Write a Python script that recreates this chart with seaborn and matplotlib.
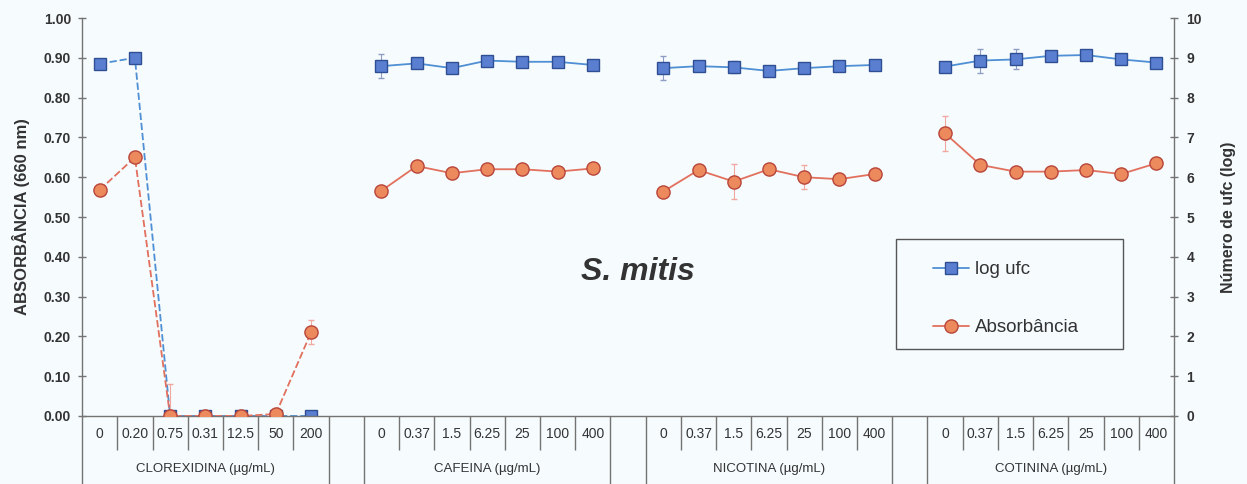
import numpy as np
import pandas as pd
import matplotlib
matplotlib.use("Agg")
import matplotlib.pyplot as plt
import seaborn as sns
from matplotlib.lines import Line2D
from matplotlib.patches import Rectangle

# ---- data -------------------------------------------------------------
group_names = ["CLOREXIDINA (µg/mL)", "CAFEINA (µg/mL)",
               "NICOTINA (µg/mL)", "COTININA (µg/mL)"]
conc_clx = ["0", "0.20", "0.75", "0.31", "12.5", "50", "200"]
conc_std = ["0", "0.37", "1.5", "6.25", "25", "100", "400"]

log_clx = [8.85, 9.00, 0.0, 0.0, 0.0, 0.0, 0.0]
log_caf = [8.79, 8.86, 8.74, 8.93, 8.90, 8.90, 8.82]
log_nic = [8.74, 8.79, 8.76, 8.67, 8.74, 8.79, 8.82]
log_cot = [8.78, 8.93, 8.96, 9.05, 9.07, 8.96, 8.88]

abs_clx = [0.568, 0.650, 0.0, 0.0, 0.0, 0.005, 0.210]
abs_caf = [0.566, 0.628, 0.610, 0.620, 0.620, 0.614, 0.622]
abs_nic = [0.564, 0.618, 0.589, 0.620, 0.600, 0.595, 0.608]
abs_cot = [0.710, 0.631, 0.614, 0.614, 0.618, 0.608, 0.635]

err_log_clx = [0.05, 0.05, 0.0, 0.0, 0.0, 0.0, 0.0]
err_log_caf = [0.30, 0.10, 0.10, 0.05, 0.05, 0.05, 0.05]
err_log_nic = [0.30, 0.10, 0.15, 0.10, 0.10, 0.05, 0.05]
err_log_cot = [0.10, 0.30, 0.25, 0.10, 0.10, 0.10, 0.10]

err_abs_clx = [0.01, 0.01, 0.08, 0.0, 0.0, 0.005, 0.03]
err_abs_caf = [0.01, 0.01, 0.01, 0.01, 0.01, 0.01, 0.01]
err_abs_nic = [0.01, 0.01, 0.045, 0.01, 0.03, 0.01, 0.01]
err_abs_cot = [0.045, 0.01, 0.01, 0.01, 0.01, 0.01, 0.01]

concs = [conc_clx, conc_std, conc_std, conc_std]
logs = [log_clx, log_caf, log_nic, log_cot]
absb = [abs_clx, abs_caf, abs_nic, abs_cot]
elogs = [err_log_clx, err_log_caf, err_log_nic, err_log_cot]
eabs = [err_abs_clx, err_abs_caf, err_abs_nic, err_abs_cot]

# each group takes 7 category slots followed by one empty slot
n_cat = 7
step = n_cat + 1
rows = []
for g, name in enumerate(group_names):
    for i in range(n_cat):
        rows.append(dict(group=name, conc=concs[g][i], pos=g * step + i + 0.5,
                         log_ufc=logs[g][i], absorb=absb[g][i],
                         err_log=elogs[g][i], err_abs=eabs[g][i]))
df = pd.DataFrame(rows)
n_slots = len(group_names) * step - 1

# ---- style ------------------------------------------------------------
sns.set_style("ticks")
plt.rcParams["font.family"] = ["Liberation Sans", "DejaVu Sans"]
bg = "#f6fbfd"
axis_col = "#737373"
txt_col = "#333333"

blue_line = "#4f8fd4"
blue_face = "#5a7fd0"
blue_edge = "#2f4f95"
red_line = "#e2705e"
red_face = "#ec8a5e"
red_edge = "#b8453a"

W, H = 1247, 484
fig = plt.figure(figsize=(W / 100, H / 100), dpi=100, facecolor=bg)
ax = fig.add_axes([0.0658, 0.1405, 0.8757, 0.8223])
ax2 = ax.twinx()
ax.set_zorder(2)
ax2.set_zorder(1)
ax.patch.set_visible(False)
ax2.patch.set_visible(False)

# ---- series -----------------------------------------------------------
for g, name in enumerate(group_names):
    sub = df[df["group"] == name]
    ls = (0, (4, 1.6)) if g == 0 else "-"
    ax2.errorbar(sub["pos"], sub["log_ufc"], yerr=sub["err_log"], fmt="none",
                 ecolor="#8f9cc4", elinewidth=0.8, capsize=2.5, zorder=1)
    sns.lineplot(data=sub, x="pos", y="log_ufc", ax=ax2, estimator=None,
                 sort=False, color=blue_line, linewidth=1.3, linestyle=ls,
                 marker="s", markersize=9, markerfacecolor=blue_face,
                 markeredgecolor=blue_edge, markeredgewidth=1.0, zorder=3)
    ax.errorbar(sub["pos"], sub["absorb"], yerr=sub["err_abs"], fmt="none",
                ecolor="#f0a8a0", elinewidth=0.8, capsize=2.5, zorder=1)
    sns.lineplot(data=sub, x="pos", y="absorb", ax=ax, estimator=None,
                 sort=False, color=red_line, linewidth=1.3, linestyle=ls,
                 marker="o", markersize=9.5, markerfacecolor=red_face,
                 markeredgecolor=red_edge, markeredgewidth=1.0, zorder=3)

# ---- axes -------------------------------------------------------------
ax.set_xlim(0, n_slots)
ax.set_ylim(0, 1.0)
ax2.set_ylim(0, 10)
ax.set_yticks(np.arange(0, 1.01, 0.1))
ax.set_yticklabels([f"{v:.2f}" for v in np.arange(0, 1.01, 0.1)])
ax2.set_yticks(np.arange(0, 11, 1))

for spine in ["top", "right"]:
    ax.spines[spine].set_visible(False)
for spine in ["top", "left", "bottom"]:
    ax2.spines[spine].set_visible(False)
ax.spines["left"].set_color(axis_col)
ax.spines["bottom"].set_color(axis_col)
ax2.spines["right"].set_color(axis_col)
for s in [ax.spines["left"], ax.spines["bottom"], ax2.spines["right"]]:
    s.set_linewidth(1.0)

ax.tick_params(axis="y", direction="inout", length=6, width=1.0,
               color=axis_col, labelsize=10, labelcolor=txt_col, pad=5)
ax2.tick_params(axis="y", direction="inout", length=6, width=1.0,
                color=axis_col, labelsize=10, labelcolor=txt_col, pad=6)
for lab in ax.get_yticklabels() + ax2.get_yticklabels():
    lab.set_fontweight("bold")

ax.set_xticks(df["pos"])
ax.set_xticklabels(df["conc"])
ax.tick_params(axis="x", length=0, labelsize=10, labelcolor=txt_col, pad=8)

ax.set_xlabel("")
ax.set_ylabel("ABSORBÂNCIA (660 nm)", fontsize=12, fontweight="bold",
              color=txt_col, labelpad=10)
ax2.set_ylabel("Número de ufc (log)", fontsize=11.5, fontweight="bold",
               color=txt_col, labelpad=14)

# category separators below the axis
xtr = ax.get_xaxis_transform()
long_b = []
short_b = []
for g in range(len(group_names)):
    start = g * step
    long_b += [start, start + n_cat]
    short_b += list(range(start + 1, start + n_cat))
ax.vlines(long_b, -0.171, 0, transform=xtr, clip_on=False,
          color=axis_col, linewidth=1.0)
ax.vlines(short_b, -0.085, 0, transform=xtr, clip_on=False,
          color=axis_col, linewidth=1.0)

for g, name in enumerate(group_names):
    ax.text(g * step + n_cat / 2, -0.133, name, transform=xtr, ha="center",
            va="center", fontsize=9.5, color=txt_col)

# title inside the plot
ax.text(0.509, 0.362, "S. mitis", transform=ax.transAxes, ha="center",
        va="center", fontsize=23, fontweight="bold", fontstyle="italic",
        color=txt_col)

# legend with a fixed-size frame
box = Rectangle((896 / W, 1 - 349 / H), (1123 - 896) / W, (349 - 239) / H,
                transform=fig.transFigure, facecolor=bg, edgecolor="#555555",
                linewidth=1.0, zorder=5, clip_on=False)
ax.add_patch(box)
handles = [
    Line2D([], [], color=blue_line, linewidth=1.3, marker="s", markersize=9,
           markerfacecolor=blue_face, markeredgecolor=blue_edge),
    Line2D([], [], color=red_line, linewidth=1.3, marker="o", markersize=9.5,
           markerfacecolor=red_face, markeredgecolor=red_edge),
]
leg = ax.legend(handles, ["log ufc", "Absorbância"], loc="upper left",
                bbox_to_anchor=(933 / W, 1 - 261 / H),
                bbox_transform=fig.transFigure, frameon=False,
                fontsize=13.5, labelspacing=2.2, handlelength=1.9,
                handletextpad=0.35, borderpad=0, borderaxespad=0,
                labelcolor=txt_col)
leg.set_zorder(6)

fig.savefig("out.png", dpi=100, facecolor=bg)
